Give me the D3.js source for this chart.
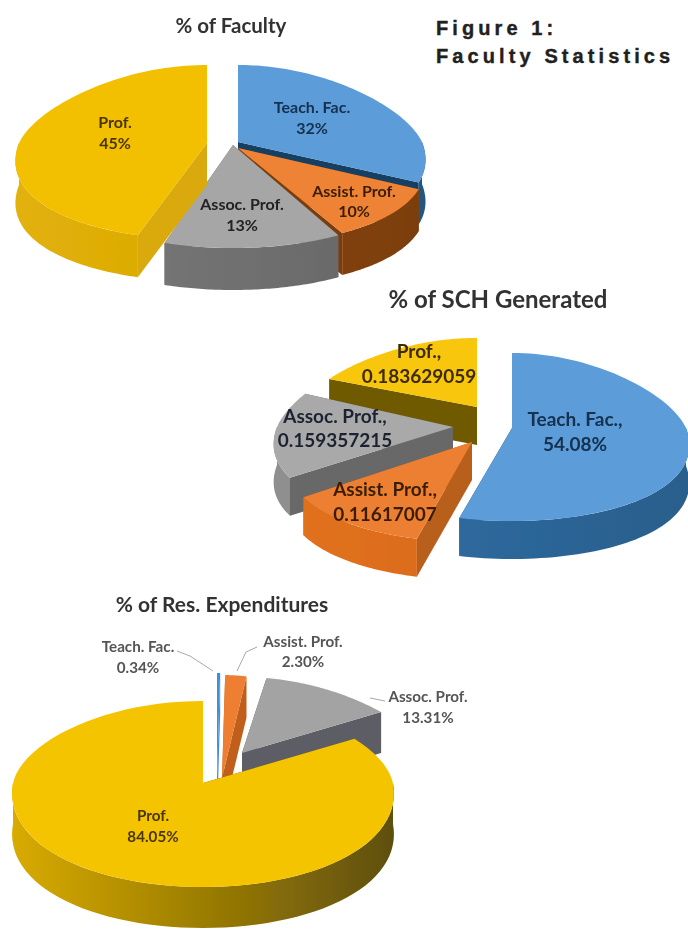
<!DOCTYPE html>
<html>
<head>
<meta charset="utf-8">
<script src="https://cdn.jsdelivr.net/npm/d3@7"></script>
<style>
  html, body { margin: 0; padding: 0; background: #fff; }
  svg { display: block; }
</style>
</head>
<body>
<div id="chart"></div>
<script>
const width = 688;
const height = 929;

// Data
const categories = ["Teach. Fac.", "Assist. Prof.", "Assoc. Prof.", "Prof."];
const facultyValues = [32, 10, 13, 45];
const facultyLabels = ["32%", "10%", "13%", "45%"];
const schValues = [54.08, 11.617007, 15.9357215, 18.3629059];
const schLabels = ["54.08%", "0.11617007", "0.159357215", "0.183629059"];
const resValues = [0.34, 2.30, 13.31, 84.05];
const resLabels = ["0.34%", "2.30%", "13.31%", "84.05%"];

// One colour set per category: top, radial wall, outer wall left, outer wall right, label
const blue = ["#5b9cd8", "#173f63", "#2f6da6", "#26557e", "#12304f"];
const orange = ["#ef8336", "#7c3e0a", "#8f4a0c", "#7c3e0a", "#3a1f05"];
const grey = ["#a6a6a6", "#656565", "#7a7a7a", "#666666", "#222222"];
const yellow = ["#f3c000", "#d9a908", "#e2b108", "#cfa000", "#4a3600"];

// Slice geometry, in draw order (back to front): index into categories,
// apex, radius, back and front height of the ellipse, perspective
const charts = [
  {
    values: facultyValues, labels: facultyLabels, depth: 42,
    title: { text: "% of Faculty", x: 231, y: 33, size: 20.5 },
    slices: [
      { i: 0, ax: 238, ay: 142, rx: 184, back: 77, front: 95, p: 0.2 },
      { i: 1, ax: 238, ay: 148, rx: 184, back: 77, front: 97, p: 0.2 },
      { i: 2, ax: 233, ay: 145, rx: 186, back: 77, front: 103, p: 0.2 },
      { i: 3, ax: 207, ay: 143, rx: 188, back: 78, front: 97, p: 0.2 }
    ],
    text: [[312, 108, 129], [354, 192, 212], [242, 205, 226], [115, 123, 144]],
    size: 16, colors: [blue, orange, grey, yellow]
  },
  {
    values: schValues, labels: schLabels, depth: 38,
    title: { text: "% of SCH Generated", x: 498, y: 308, size: 24 },
    slices: [
      { i: 3, ax: 477, ay: 407, rx: 176, back: 69, front: 90, p: 0.2 },
      { i: 2, ax: 453, ay: 427, rx: 176, back: 82, front: 92, p: 0.2 },
      { i: 1, ax: 472, ay: 442, rx: 182, back: 80, front: 100, p: 0.2 },
      { i: 0, ax: 512, ay: 428, rx: 174, back: 75, front: 93, p: 0.2 }
    ],
    text: [[575, 421, 446], [385, 491, 516], [335, 418, 442], [419, 353, 378]],
    size: 19,
    colors: [
      ["#5b9cd8", "#1d4a72", "#2f6da6", "#2a5f8c", "#12304f"],
      ["#ec7f30", "#b85f1d", "#e2711f", "#cf6418", "#3a1f05"],
      ["#a9a9a9", "#686868", "#8f8f8f", "#7c7c7c", "#1d2430"],
      ["#f7c60a", "#6f5a00", "#7a6300", "#8f7400", "#3d2c00"]
    ]
  },
  {
    values: resValues, labels: resLabels, depth: 41,
    title: { text: "% of Res. Expenditures", x: 222, y: 612, size: 21 },
    slices: [
      { i: 2, ax: 242, ay: 753, rx: 185, back: 76, front: 90, p: 0.2 },
      { i: 1, ax: 222, ay: 778, rx: 185, back: 103, front: 103, p: 0.2 },
      { i: 0, ax: 217, ay: 778, rx: 185, back: 105, front: 105, p: 0.2 },
      { i: 3, ax: 203, ay: 783, rx: 190, back: 82, front: 104, p: 0.1 }
    ],
    text: [[138, 647, 668], [303, 642, 662], [428, 697, 718], [153, 816, 837]],
    size: 15.2,
    colors: [
      ["#3f8fd8", "#3f8fd8", "#2f6da6", "#26557e", "#555555"],
      ["#ee7f30", "#c05f1c", "#c05f1c", "#c05f1c", "#555555"],
      ["#a3a3a3", "#5d5d66", "#5d5d66", "#5d5d66", "#555555"],
      ["#f5c400", "#6f5a00", "#d8ab00", "#5f4f0a", "#4a3600"]
    ],
    leaders: [
      [[177, 651], [190, 656], [213, 671]],
      [[257, 647], [246, 652], [237, 671]],
      [[385, 701], [370, 698]]
    ]
  }
];

const svg = d3.select("#chart")
              .append("svg")
              .attr("width", width)
              .attr("height", height);

const defs = svg.append("defs");
defs.append("filter")
    .attr("id", "soft")
    .attr("x", "-5%").attr("y", "-5%")
    .attr("width", "110%").attr("height", "110%")
    .append("feGaussianBlur")
    .attr("stdDeviation", 0.7);

const root = svg.append("g").attr("filter", "url(#soft)");

const pie = d3.pie().sort(null).value(d => d);
const line = d3.line();

// Sweep an angle range into n+1 steps
function sweep(a0, a1, n) {
  return d3.range(n + 1).map(k => a0 + (a1 - a0) * k / n);
}

charts.forEach((chart, c) => {
  const arcs = pie(chart.values);

  chart.slices.forEach((s, n) => {
    const arc = arcs[s.i];
    const color = chart.colors[s.i];

    // Screen position comes from scales on sin and cos of the angle
    const xScale = d3.scaleLinear().domain([-1, 1]).range([s.ax - s.rx, s.ax + s.rx]);
    const yScale = d3.scaleLinear().domain([-1, 0, 1]).range([s.ay + s.front, s.ay, s.ay - s.back]);
    const project = a => [
      xScale(Math.sin(a) * (1 - s.p * Math.cos(a))),
      yScale(Math.cos(a))
    ];
    const drop = pt => [pt[0], pt[1] + chart.depth];
    const apex = [s.ax, s.ay];

    const g = root.append("g");

    // Radial walls
    [arc.startAngle, arc.endAngle].forEach(a => {
      const edge = project(a);
      g.append("path")
       .attr("d", line([apex, edge, drop(edge), drop(apex)]) + "Z")
       .attr("fill", color[1]);
    });

    // Outer wall, only the part that faces the viewer
    const a0 = Math.max(arc.startAngle, Math.PI / 2);
    const a1 = Math.min(arc.endAngle, Math.PI * 1.5);
    if (a1 > a0) {
      const gradId = `wall-${c}-${n}`;
      const grad = defs.append("linearGradient")
                       .attr("id", gradId)
                       .attr("gradientUnits", "userSpaceOnUse")
                       .attr("x1", s.ax - s.rx).attr("x2", s.ax + s.rx)
                       .attr("y1", 0).attr("y2", 0);
      grad.append("stop").attr("offset", "0%").attr("stop-color", color[2]);
      grad.append("stop").attr("offset", "100%").attr("stop-color", color[3]);

      const rim = sweep(a0, a1, 60).map(project);
      g.append("path")
       .attr("d", line(rim.concat(rim.map(drop).reverse())) + "Z")
       .attr("fill", `url(#${gradId})`);
    }

    // Top surface
    const top = sweep(arc.startAngle, arc.endAngle, 80).map(project);
    g.append("path")
     .attr("d", line([apex].concat(top)) + "Z")
     .attr("fill", color[0]);
  });

  // Leader lines
  (chart.leaders || []).forEach(pts => {
    root.append("path")
        .attr("d", line(pts))
        .attr("fill", "none")
        .attr("stroke", "#a8a8a8")
        .attr("stroke-width", 1);
  });

  // Chart title
  root.append("text")
      .attr("x", chart.title.x)
      .attr("y", chart.title.y)
      .attr("text-anchor", "middle")
      .style("font-family", "Lato, sans-serif")
      .style("font-weight", 700)
      .style("font-size", chart.title.size + "px")
      .style("fill", "#333")
      .text(chart.title.text);

  // Data labels: category name, comma for the SCH chart, then the value
  categories.forEach((name, i) => {
    const pos = chart.text[i];
    const label = root.append("text")
                      .attr("text-anchor", "middle")
                      .style("font-family", "Lato, sans-serif")
                      .style("font-weight", 700)
                      .style("font-size", chart.size + "px")
                      .style("fill", chart.colors[i][4]);
    label.append("tspan")
         .attr("x", pos[0]).attr("y", pos[1] + 5)
         .text(c === 1 ? name + "," : name);
    label.append("tspan")
         .attr("x", pos[0]).attr("y", pos[2] + 5)
         .text(chart.labels[i]);
  });
});

// Page heading set beside the first pie
const heading = svg.append("text")
                   .style("font-family", "'Liberation Sans', sans-serif")
                   .style("font-weight", 700)
                   .style("font-size", "20px")
                   .style("letter-spacing", "4.1px")
                   .style("fill", "#231f20")
                   .style("stroke", "#231f20")
                   .style("stroke-width", 0.4);
heading.append("tspan").attr("x", 436).attr("y", 35).text("Figure 1:");
heading.append("tspan").attr("x", 436).attr("y", 63).text("Faculty Statistics");
</script>
</body>
</html>
